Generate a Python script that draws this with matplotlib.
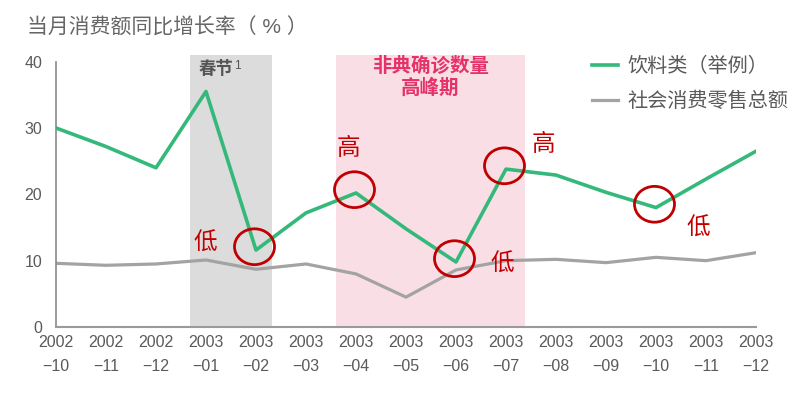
import numpy as np
import matplotlib.pyplot as plt
from matplotlib.patches import Ellipse

plt.rcParams['font.family'] = ['Liberation Sans', 'Noto Sans CJK SC', 'DejaVu Sans']

months = ['2002\n\u221210', '2002\n\u221211', '2002\n\u221212', '2003\n\u221201', '2003\n\u221202',
          '2003\n\u221203', '2003\n\u221204', '2003\n\u221205', '2003\n\u221206', '2003\n\u221207',
          '2003\n\u221208', '2003\n\u221209', '2003\n\u221210', '2003\n\u221211', '2003\n\u221212']
drinks = [30.0, 27.2, 24.0, 35.5, 11.6, 17.2, 20.2, 14.8, 9.8, 23.8, 22.9, 20.3, 18.0, 22.3, 26.5]
retail = [9.6, 9.3, 9.5, 10.1, 8.7, 9.5, 8.0, 4.5, 8.6, 10.0, 10.2, 9.7, 10.5, 10.0, 11.2]

# highlighted points: (index, label, label dx, label dy)
marks = [(4, '低', -1.02, 1.0), (6, '高', -0.16, 6.6), (8, '低', 0.92, -0.4),
         (9, '高', 0.74, 3.6), (12, '低', 0.84, -3.2)]

green = '#34b97b'
gray = '#a3a3a3'
red = '#c00000'

fig = plt.figure(figsize=(8.11, 3.96), dpi=100)
ax = fig.add_axes([56/811, 1-327/396, 700/811, 272/396])
x = np.arange(len(months))

ax.axvspan(2.68, 4.32, color='#dcdcdc', lw=0, zorder=0)
ax.axvspan(5.6, 9.38, color='#f9dfe5', lw=0, zorder=0)
ax.text(3.55, 38.9, '春节', ha='right', va='center', fontsize=12.5, fontweight='bold', color='#555555')
ax.text(3.57, 39.4, '1', ha='left', va='center', fontsize=8.5, color='#555555')
ax.text(7.49, 37.6, '非典确诊数量\n高峰期', ha='center', va='center', fontsize=14,
        fontweight='bold', color='#e5326a', linespacing=1.15)

ax.plot(x, retail, color=gray, lw=2.3, label='社会消费零售总额', zorder=2)
ax.plot(x, drinks, color=green, lw=2.6, label='饮料类（举例）', zorder=3)

for i, lab, dx, dy in marks:
    ax.add_patch(Ellipse((x[i] - 0.03, drinks[i] + 0.5), 0.8, 5.4, fill=False,
                         ec=red, lw=2.0, zorder=4))
    ax.text(x[i] + dx, drinks[i] + dy, lab, ha='center', va='center', fontsize=17,
            color=red, zorder=5)

ax.set_xlim(0, 14)
ax.set_ylim(0, 41)
ax.set_yticks([0, 10, 20, 30, 40])
ax.set_xticks(x)
ax.set_xticklabels(months, linespacing=1.7)
ax.tick_params(length=0, labelsize=11.5, colors='#5a5a5a', pad=6)
ax.tick_params(axis='y', pad=10)
for s in ['top', 'right']:
    ax.spines[s].set_visible(False)
ax.spines['left'].set_bounds(0, 40)
ax.spines['left'].set_color('#8a8a8a')
ax.spines['bottom'].set_color('#9a9a9a')
ax.spines['left'].set_linewidth(1.2)
ax.spines['bottom'].set_linewidth(1.5)

h, l = ax.get_legend_handles_labels()
ax.legend(h[::-1], l[::-1], loc='upper left', bbox_to_anchor=(592/811, 1-57/396),
          bbox_transform=fig.transFigure, borderaxespad=0, borderpad=0, frameon=False,
          fontsize=14.5, handlelength=1.3, handletextpad=0.45, labelspacing=0.75,
          labelcolor='#5a5a5a')

fig.text(27/811, 1-28/396, '当月消费额同比增长率（ % ）', ha='left', va='center',
         fontsize=15, color='#666666')

fig.savefig('out.png', dpi=100)
